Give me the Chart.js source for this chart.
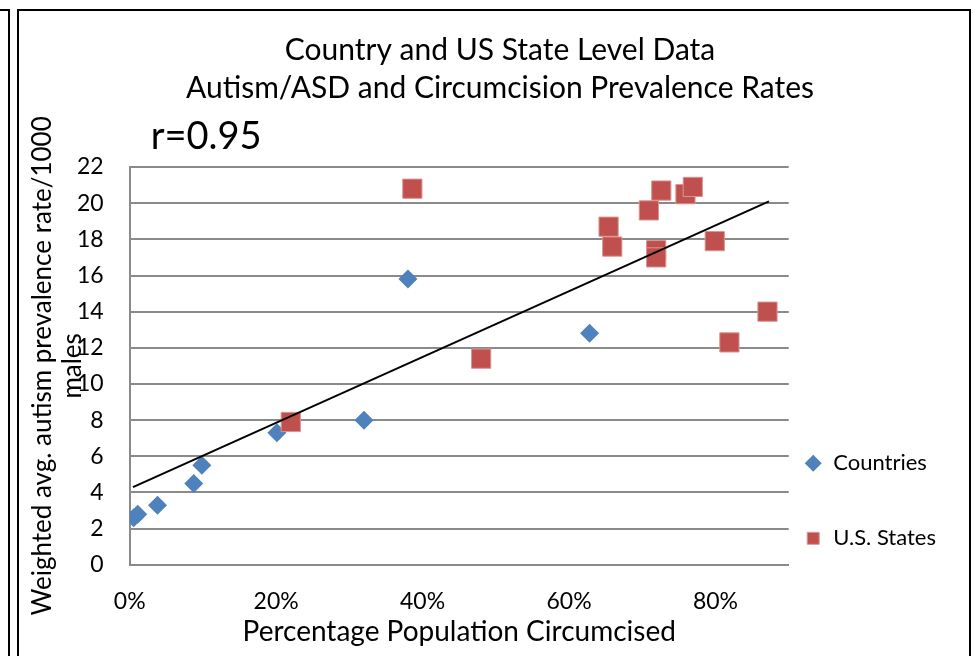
<!DOCTYPE html>
<html>
<head>
<meta charset="utf-8">
<script src="https://cdn.jsdelivr.net/npm/chart.js@4/dist/chart.umd.min.js"></script>
<style>
  html, body { margin:0; padding:0; background:#fff; overflow:hidden; }
  #prev { position:absolute; left:0; top:9px; width:8px; height:700px;
          border-top:2px solid #000; border-right:2px solid #000; }
  #frame { position:absolute; left:17px; top:9px; width:950px; height:700px;
           border:2px solid #000; border-bottom:none; }
  canvas { display:block; }
</style>
</head>
<body>
<div id="prev"></div>
<div id="frame"><canvas id="c" width="950" height="645"></canvas></div>
<script>
// values (x = % circumcised, y = rate per 1000 males)
const countriesX = [0.55, 1.1, 3.8, 8.75, 9.85, 20.1, 32.0, 38.0, 62.8];
const countriesY = [2.6, 2.8, 3.3, 4.5, 5.5, 7.3, 8.0, 15.8, 12.8];
const statesX = [22.0, 38.6, 48.0, 65.4, 65.9, 70.9, 71.9, 71.9, 72.6, 75.9, 76.9, 79.9, 81.9, 87.1];
const statesY = [7.9, 20.8, 11.4, 18.7, 17.6, 19.6, 17.4, 17.0, 20.7, 20.5, 20.9, 17.9, 12.3, 14.0];
const trendX = [0.45, 87.3];
const trendY = [4.3, 20.1];
const xTicks = [0, 20, 40, 60, 80];
const titleLines = ['Country and US State Level Data', 'Autism/ASD and Circumcision Prevalence Rates'];
const rLabel = 'r=0.95';

const FONT = 'Lato, "Open Sans", sans-serif';
const GRID = '#8a8a8a';

function pts(xs, ys){ return xs.map((x,i)=>({x, y:ys[i]})); }

// r value text box above the plot
const rText = {
  id:'rText',
  afterDraw(chart){
    const {ctx, chartArea} = chart;
    ctx.save();
    ctx.font = '38px ' + FONT;
    ctx.fillStyle = '#000';
    ctx.textBaseline = 'middle';
    ctx.fillText(rLabel, chartArea.left + 21, chartArea.top - 30);
    ctx.restore();
  }
};

new Chart(document.getElementById('c'), {
  type:'scatter',
  data:{ datasets:[
    { label:'Countries', data:pts(countriesX, countriesY), pointStyle:'rectRot', pointRadius:9.5,
      backgroundColor:'#4F81BD', borderColor:'#4F81BD', borderWidth:0, order:2 },
    { label:'U.S. States', data:pts(statesX, statesY), pointStyle:'rect', pointRadius:13.6,
      backgroundColor:'#C0504D', borderColor:'#D99694', borderWidth:1, order:1 },
    { label:'trend', data:pts(trendX, trendY), showLine:true, pointRadius:0,
      borderColor:'#000', borderWidth:2, backgroundColor:'#000', order:0 }
  ]},
  options:{
    responsive:false, animation:false,
    layout:{ padding:{ left:35, right:23, top:0, bottom:7 } },
    plugins:{
      tooltip:{ enabled:false },
      title:{ display:true, text:titleLines, color:'#000',
        font:{ family:FONT, size:30, weight:'normal', lineHeight:1.267 },
        padding:{ top:20, bottom:60 } },
      legend:{
        position:'right', align:'end', fullSize:false,
        labels:{
          usePointStyle:true, boxWidth:18, boxHeight:12, padding:15.5, color:'#000',
          font:{ family:FONT, size:22 },
          generateLabels(chart){
            const items = Chart.defaults.plugins.legend.labels.generateLabels(chart)
              .filter(it => it.datasetIndex !== 2)
              .sort((a,b) => a.datasetIndex - b.datasetIndex);
            items.splice(1, 0, { text:'', fillStyle:'transparent', strokeStyle:'transparent',
              lineWidth:0, pointStyle:'circle', hidden:false, fontColor:'#000', datasetIndex:-1 });
            return items;
          }
        },
        onClick(){}
      }
    },
    scales:{
      x:{ type:'linear', min:0, max:90,
        afterBuildTicks(s){ s.ticks = xTicks.map(v=>({value:v})); },
        grid:{ display:false, drawTicks:false },
        border:{ display:true, color:GRID, width:2 },
        ticks:{ color:'#000', padding:23, font:{ family:FONT, size:23 }, callback:v=>v+'%' },
        title:{ display:true, text:'Percentage Population Circumcised', color:'#000',
          font:{ family:FONT, size:28 }, padding:{ top:-23, bottom:0 } }
      },
      y:{ min:0, max:22,
        grid:{ color:GRID, lineWidth:2, drawTicks:false },
        border:{ display:true, color:GRID, width:2 },
        ticks:{ stepSize:2, color:'#000', padding:26, font:{ family:FONT, size:23 } },
        title:{ display:true, text:['Weighted avg. autism prevalence rate/1000', 'males'], color:'#000',
          font:{ family:FONT, size:26, lineHeight:1.154 }, padding:{ top:-26, bottom:-37 } }
      }
    }
  },
  plugins:[rText]
});
</script>
</body>
</html>
